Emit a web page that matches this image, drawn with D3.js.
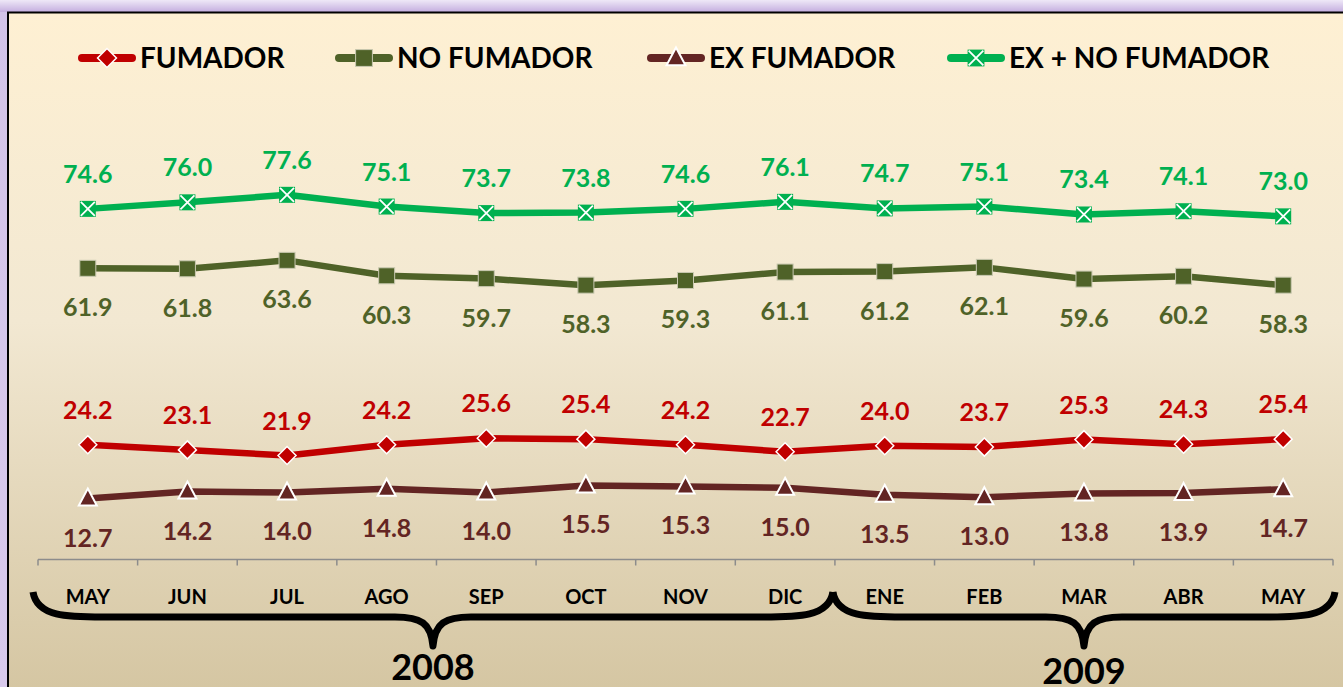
<!DOCTYPE html>
<html>
<head>
<meta charset="utf-8">
<script src="https://cdn.jsdelivr.net/npm/d3@7"></script>
<style>
  body { margin: 0; padding: 0; overflow: hidden; }
  svg { display: block; }
  text { font-family: Lato, "Open Sans", sans-serif; font-weight: bold; }
</style>
</head>
<body>
<svg width="1343" height="687"></svg>
<script>
// data
var months = ["MAY", "JUN", "JUL", "AGO", "SEP", "OCT", "NOV", "DIC", "ENE", "FEB", "MAR", "ABR", "MAY"];
var years = [
    { label: "2008", from: 0, to: 7 },
    { label: "2009", from: 8, to: 12 }
];
var fumador    = [24.2, 23.1, 21.9, 24.2, 25.6, 25.4, 24.2, 22.7, 24.0, 23.7, 25.3, 24.3, 25.4];
var noFumador  = [61.9, 61.8, 63.6, 60.3, 59.7, 58.3, 59.3, 61.1, 61.2, 62.1, 59.6, 60.2, 58.3];
var exFumador  = [12.7, 14.2, 14.0, 14.8, 14.0, 15.5, 15.3, 15.0, 13.5, 13.0, 13.8, 13.9, 14.7];
var exNoFumador = [74.6, 76.0, 77.6, 75.1, 73.7, 73.8, 74.6, 76.1, 74.7, 75.1, 73.4, 74.1, 73.0];

var series = [
    { name: "FUMADOR", values: fumador, color: "#c00000", marker: "diamond", label: "above" },
    { name: "NO FUMADOR", values: noFumador, color: "#4f6228", marker: "square", label: "below" },
    { name: "EX FUMADOR", values: exFumador, color: "#632523", marker: "triangle", label: "below" },
    { name: "EX + NO FUMADOR", values: exNoFumador, color: "#00b050", marker: "xbox", label: "above" }
];

var svg = d3.select("svg"),
    width = +svg.attr("width"),
    height = +svg.attr("height");

var defs = svg.append("defs");

var frameGrad = defs.append("linearGradient").attr("id", "frame")
    .attr("x1", 0).attr("y1", 0).attr("x2", 0).attr("y2", 1);
frameGrad.append("stop").attr("offset", "0").attr("stop-color", "#d2c3e8");
frameGrad.append("stop").attr("offset", "1").attr("stop-color", "#d8caec");

var topGrad = defs.append("linearGradient").attr("id", "frametop")
    .attr("x1", 0).attr("y1", 0).attr("x2", 0).attr("y2", 1);
topGrad.append("stop").attr("offset", "0").attr("stop-color", "#eee8f7");
topGrad.append("stop").attr("offset", "1").attr("stop-color", "#c4aedf");

var bgGrad = defs.append("linearGradient").attr("id", "bg")
    .attr("x1", 0).attr("y1", 0).attr("x2", 0).attr("y2", 1);
bgGrad.append("stop").attr("offset", "0").attr("stop-color", "#fef0d3");
bgGrad.append("stop").attr("offset", "0.45").attr("stop-color", "#f2e8d2");
bgGrad.append("stop").attr("offset", "1").attr("stop-color", "#d4c5a1");

// outer lavender frame
svg.append("rect").attr("width", width).attr("height", height).attr("fill", "url(#frame)");
svg.append("rect").attr("width", width).attr("height", 12).attr("fill", "url(#frametop)");

// plot panel
svg.append("rect")
    .attr("x", 8).attr("y", 12.5)
    .attr("width", width + 10).attr("height", height)
    .attr("fill", "url(#bg)")
    .attr("stroke", "#000")
    .attr("stroke-width", 2);

var x = d3.scaleBand().domain(d3.range(months.length)).range([38, 1333]);
var y = d3.scaleLinear().domain([0, 100]).range([558, 90]);

function cx(i) { return x(i) + x.bandwidth() / 2; }

// category axis
var axisY = 559.5;
var axisG = svg.append("g").attr("transform", "translate(0," + axisY + ")");
axisG.append("line")
    .attr("x1", x.range()[0]).attr("x2", x.range()[1])
    .attr("stroke", "#8c8c8c").attr("stroke-width", 1.5);
axisG.selectAll(".tick")
    .data(d3.range(months.length + 1))
    .enter().append("line")
    .attr("x1", function(d) { return x.range()[0] + d * x.step(); })
    .attr("x2", function(d) { return x.range()[0] + d * x.step(); })
    .attr("y1", 0).attr("y2", 6)
    .attr("stroke", "#8c8c8c").attr("stroke-width", 1.5);

svg.selectAll(".month")
    .data(months)
    .enter().append("text")
    .attr("class", "month")
    .attr("x", function(d, i) { return cx(i); })
    .attr("y", 604)
    .attr("text-anchor", "middle")
    .attr("font-size", "20px")
    .attr("fill", "#000")
    .text(function(d) { return d; });

// year braces
var yTop = 592, yH = 617, yTip = 646;
function bracePath(x0, x1) {
    var xm = (x0 + x1) / 2;
    return "M" + x0 + "," + yTop +
        "C" + (x0 + 4) + "," + yH + " " + (x0 + 35) + "," + yH + " " + (x0 + 70) + "," + yH +
        "L" + (xm - 38) + "," + yH +
        "C" + (xm - 12) + "," + yH + " " + (xm - 2) + "," + (yH + 6) + " " + xm + "," + yTip +
        "C" + (xm + 2) + "," + (yH + 6) + " " + (xm + 12) + "," + yH + " " + (xm + 38) + "," + yH +
        "L" + (x1 - 70) + "," + yH +
        "C" + (x1 - 35) + "," + yH + " " + (x1 - 4) + "," + yH + " " + x1 + "," + yTop;
}
years.forEach(function(yr, k) {
    var x0 = k === 0 ? x.range()[0] - 5 : x(yr.from) - 2;
    var x1 = k === years.length - 1 ? x.range()[1] + 2 : x(yr.to) + x.step() - 2;
    svg.append("path")
        .attr("d", bracePath(x0, x1))
        .attr("fill", "none")
        .attr("stroke", "#000")
        .attr("stroke-width", 7)
        .attr("stroke-linejoin", "round");
    svg.append("text")
        .attr("x", (x0 + x1) / 2)
        .attr("y", k === 0 ? 680 : 684)
        .attr("text-anchor", "middle")
        .attr("font-size", "36px")
        .attr("fill", "#000")
        .text(yr.label);
});

// markers
function drawMarker(sel, type, color, s) {
    s = s || 1;
    if (type === "diamond") {
        sel.append("path")
            .attr("d", "M0," + (-9 * s) + "L" + (9 * s) + ",0L0," + (9 * s) + "L" + (-9 * s) + ",0Z")
            .attr("fill", color).attr("stroke", "#fff").attr("stroke-width", 1.5);
    } else if (type === "square") {
        sel.append("rect")
            .attr("x", -8 * s).attr("y", -8 * s).attr("width", 16 * s).attr("height", 16 * s)
            .attr("fill", color).attr("stroke", "#c8c8b0").attr("stroke-width", 1);
    } else if (type === "triangle") {
        sel.append("path")
            .attr("d", "M0," + (-10 * s) + "L" + (9 * s) + "," + (7 * s) + "L" + (-9 * s) + "," + (7 * s) + "Z")
            .attr("fill", color).attr("stroke", "#fff").attr("stroke-width", 2);
    } else if (type === "xbox") {
        sel.append("rect")
            .attr("x", -8 * s).attr("y", -8 * s).attr("width", 16 * s).attr("height", 16 * s)
            .attr("fill", color);
        sel.append("path")
            .attr("d", "M" + (-7 * s) + "," + (-7 * s) + "L" + (7 * s) + "," + (7 * s) +
                       "M" + (7 * s) + "," + (-7 * s) + "L" + (-7 * s) + "," + (7 * s))
            .attr("stroke", "#fff").attr("stroke-width", 1.8);
    }
}

var line = d3.line()
    .x(function(d, i) { return cx(i); })
    .y(function(d) { return y(d); });

series.forEach(function(s) {
    svg.append("path")
        .datum(s.values)
        .attr("d", line)
        .attr("fill", "none")
        .attr("stroke", s.color)
        .attr("stroke-width", 6.5)
        .attr("stroke-linejoin", "round");

    s.values.forEach(function(v, i) {
        var g = svg.append("g").attr("transform", "translate(" + cx(i) + "," + y(v) + ")");
        drawMarker(g, s.marker, s.color);
    });

    svg.selectAll(null)
        .data(s.values)
        .enter().append("text")
        .attr("x", function(d, i) { return cx(i); })
        .attr("y", function(d) { return s.label === "above" ? y(d) - 26 : y(d) + 48; })
        .attr("text-anchor", "middle")
        .attr("font-size", "25px")
        .attr("fill", s.color)
        .text(function(d) { return d.toFixed(1); });
});

// legend
var legendX = [78, 335, 647, 947];
series.forEach(function(s, i) {
    var g = svg.append("g").attr("transform", "translate(" + legendX[i] + ",58)");
    g.append("line")
        .attr("x1", 4).attr("x2", 54)
        .attr("stroke", s.color).attr("stroke-width", 8)
        .attr("stroke-linecap", "round");
    var m = g.append("g").attr("transform", "translate(29,0)");
    drawMarker(m, s.marker, s.color, 1.05);
    g.append("text")
        .attr("x", 62).attr("y", 10)
        .attr("font-size", "28px")
        .attr("fill", "#000")
        .text(s.name);
});
</script>
</body>
</html>
